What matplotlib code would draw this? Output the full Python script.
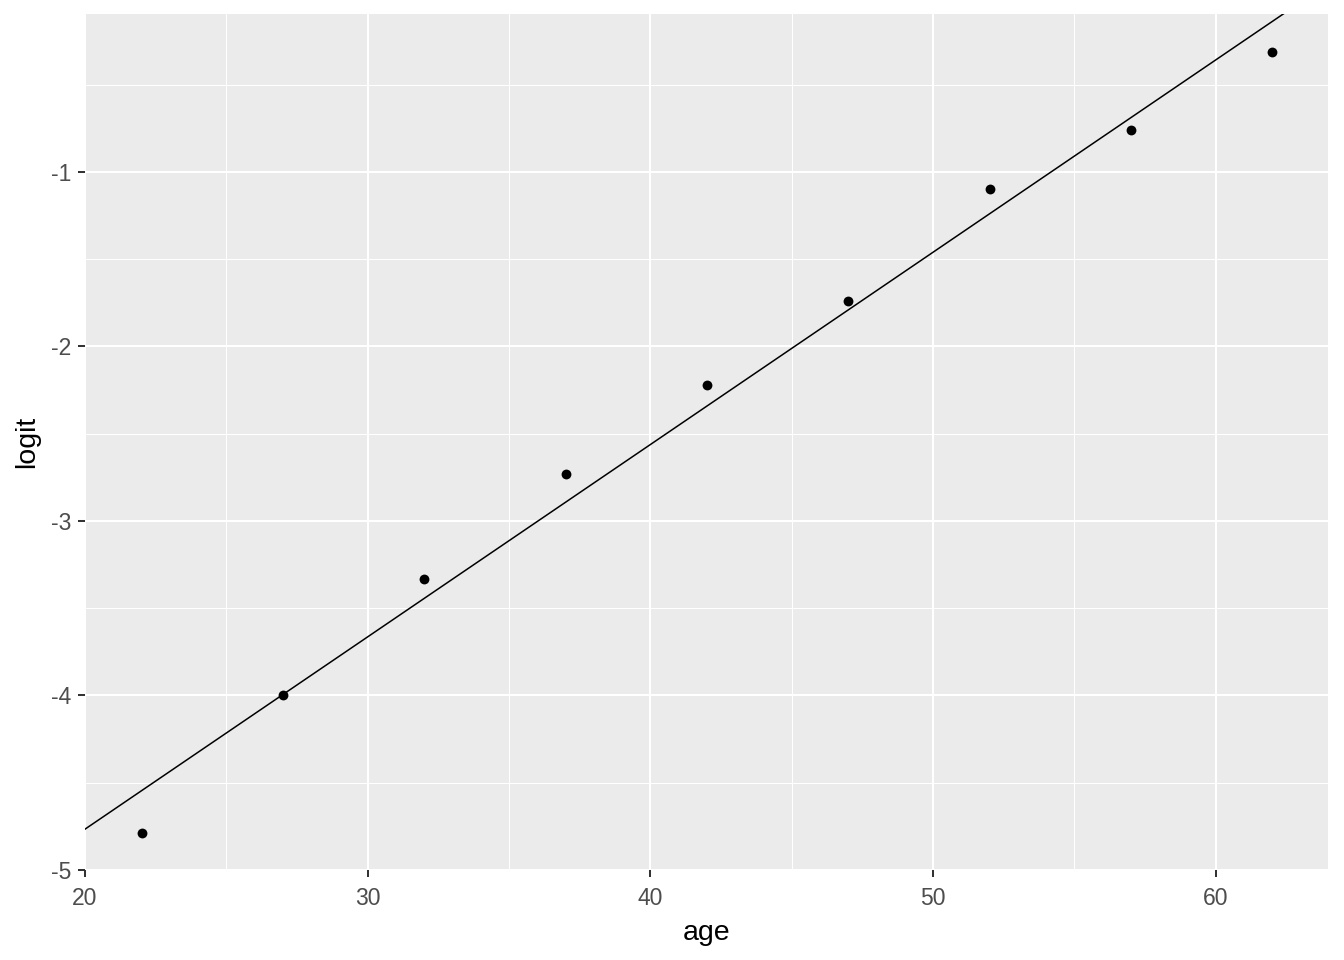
import matplotlib
matplotlib.use("Agg")
import matplotlib.pyplot as plt
import numpy as np
from matplotlib.ticker import MultipleLocator

# data
age = [22, 27, 32, 37, 42, 47, 52, 57, 62]
logit = [-4.79, -4.00, -3.33, -2.73, -2.22, -1.74, -1.10, -0.76, -0.31]

# fitted line (intercept, slope)
intercept = -6.97
slope = 0.1102

x_ticks = [20, 30, 40, 50, 60]
y_ticks = [-5, -4, -3, -2, -1]

plt.rcParams['font.family'] = ['Liberation Sans', 'DejaVu Sans']

fig = plt.figure(figsize=(13.44, 9.6), dpi=100)
ax = fig.add_axes([85 / 1344, 90 / 960, 1243 / 1344, 856 / 960])
ax.set_facecolor('#EBEBEB')

ax.set_xlim(20, 63.97)
ax.set_ylim(-5, -0.095)

ax.xaxis.set_minor_locator(MultipleLocator(5))
ax.yaxis.set_minor_locator(MultipleLocator(0.5))
ax.set_xticks(x_ticks)
ax.set_yticks(y_ticks)
ax.set_yticklabels([f"{v}" for v in y_ticks])

ax.grid(which='major', color='white', linewidth=1.45)
ax.grid(which='minor', color='white', linewidth=0.75)
ax.set_axisbelow(True)

for s in ax.spines.values():
    s.set_visible(False)

ax.tick_params(which='major', length=5.2, width=1.45, color='#333333',
               labelcolor='#4D4D4D', labelsize=16.5)
ax.tick_params(axis='x', pad=7)
ax.tick_params(axis='y', pad=4.5)
ax.tick_params(which='minor', length=0)

xs = np.array(ax.get_xlim())
ax.plot(xs, intercept + slope * xs, color='black', linewidth=1.1,
        zorder=2, clip_on=True)
ax.scatter(age, logit, s=50, color='black', zorder=3, linewidths=0)

ax.set_xlabel('age', fontsize=20.5, color='black', labelpad=7)
ax.set_ylabel('logit', fontsize=20.5, color='black', labelpad=8)

fig.savefig('out.png', dpi=100)
